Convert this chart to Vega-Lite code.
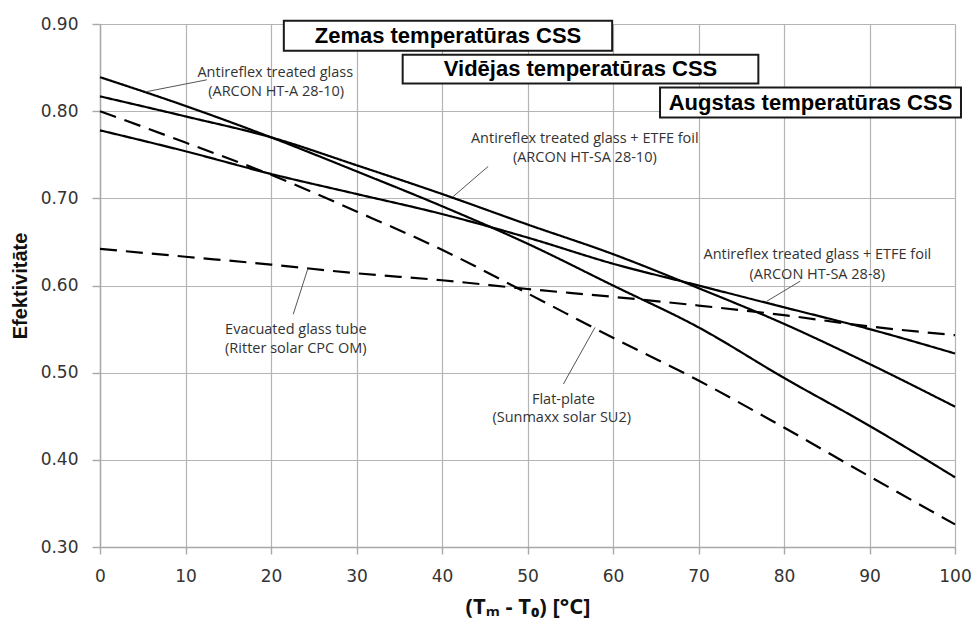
{
  "$schema": "https://vega.github.io/schema/vega-lite/v6.json",
  "width": 855,
  "height": 523,
  "autosize": "none",
  "padding": {"left": 100, "top": 24, "right": 18, "bottom": 74},
  "background": "white",
  "config": {
    "view": {"stroke": null},
    "axis": {
      "gridColor": "#b4b4b4",
      "gridWidth": 1.2,
      "domainColor": "#a8a8a8",
      "domainWidth": 1.4,
      "tickColor": "#a8a8a8",
      "tickWidth": 1.4,
      "labelFont": "DejaVu Sans",
      "labelFontSize": 17,
      "labelColor": "#333333",
      "labelFlush": false,
      "titleColor": "#111111"
    }
  },
  "datasets": {
    "curves": [
      {"T": 0, "eff": 0.839, "collector": "ARCON HT-A 28-10"},
      {"T": 10, "eff": 0.806, "collector": "ARCON HT-A 28-10"},
      {"T": 20, "eff": 0.770, "collector": "ARCON HT-A 28-10"},
      {"T": 30, "eff": 0.731, "collector": "ARCON HT-A 28-10"},
      {"T": 40, "eff": 0.691, "collector": "ARCON HT-A 28-10"},
      {"T": 50, "eff": 0.648, "collector": "ARCON HT-A 28-10"},
      {"T": 60, "eff": 0.600, "collector": "ARCON HT-A 28-10"},
      {"T": 70, "eff": 0.552, "collector": "ARCON HT-A 28-10"},
      {"T": 80, "eff": 0.494, "collector": "ARCON HT-A 28-10"},
      {"T": 90, "eff": 0.439, "collector": "ARCON HT-A 28-10"},
      {"T": 100, "eff": 0.380, "collector": "ARCON HT-A 28-10"},
      {"T": 0, "eff": 0.817, "collector": "ARCON HT-SA 28-10"},
      {"T": 10, "eff": 0.794, "collector": "ARCON HT-SA 28-10"},
      {"T": 20, "eff": 0.770, "collector": "ARCON HT-SA 28-10"},
      {"T": 30, "eff": 0.738, "collector": "ARCON HT-SA 28-10"},
      {"T": 40, "eff": 0.705, "collector": "ARCON HT-SA 28-10"},
      {"T": 50, "eff": 0.670, "collector": "ARCON HT-SA 28-10"},
      {"T": 60, "eff": 0.636, "collector": "ARCON HT-SA 28-10"},
      {"T": 70, "eff": 0.597, "collector": "ARCON HT-SA 28-10"},
      {"T": 80, "eff": 0.556, "collector": "ARCON HT-SA 28-10"},
      {"T": 90, "eff": 0.510, "collector": "ARCON HT-SA 28-10"},
      {"T": 100, "eff": 0.461, "collector": "ARCON HT-SA 28-10"},
      {"T": 0, "eff": 0.778, "collector": "ARCON HT-SA 28-8"},
      {"T": 10, "eff": 0.754, "collector": "ARCON HT-SA 28-8"},
      {"T": 20, "eff": 0.728, "collector": "ARCON HT-SA 28-8"},
      {"T": 30, "eff": 0.705, "collector": "ARCON HT-SA 28-8"},
      {"T": 40, "eff": 0.682, "collector": "ARCON HT-SA 28-8"},
      {"T": 50, "eff": 0.655, "collector": "ARCON HT-SA 28-8"},
      {"T": 60, "eff": 0.625, "collector": "ARCON HT-SA 28-8"},
      {"T": 70, "eff": 0.600, "collector": "ARCON HT-SA 28-8"},
      {"T": 80, "eff": 0.575, "collector": "ARCON HT-SA 28-8"},
      {"T": 90, "eff": 0.550, "collector": "ARCON HT-SA 28-8"},
      {"T": 100, "eff": 0.522, "collector": "ARCON HT-SA 28-8"},
      {"T": 0, "eff": 0.800, "collector": "Sunmaxx solar SU2"},
      {"T": 10, "eff": 0.764, "collector": "Sunmaxx solar SU2"},
      {"T": 20, "eff": 0.727, "collector": "Sunmaxx solar SU2"},
      {"T": 30, "eff": 0.685, "collector": "Sunmaxx solar SU2"},
      {"T": 40, "eff": 0.641, "collector": "Sunmaxx solar SU2"},
      {"T": 50, "eff": 0.591, "collector": "Sunmaxx solar SU2"},
      {"T": 60, "eff": 0.540, "collector": "Sunmaxx solar SU2"},
      {"T": 70, "eff": 0.491, "collector": "Sunmaxx solar SU2"},
      {"T": 80, "eff": 0.437, "collector": "Sunmaxx solar SU2"},
      {"T": 90, "eff": 0.381, "collector": "Sunmaxx solar SU2"},
      {"T": 100, "eff": 0.326, "collector": "Sunmaxx solar SU2"},
      {"T": 0, "eff": 0.642, "collector": "Ritter solar CPC OM"},
      {"T": 10, "eff": 0.633, "collector": "Ritter solar CPC OM"},
      {"T": 20, "eff": 0.624, "collector": "Ritter solar CPC OM"},
      {"T": 30, "eff": 0.614, "collector": "Ritter solar CPC OM"},
      {"T": 40, "eff": 0.606, "collector": "Ritter solar CPC OM"},
      {"T": 50, "eff": 0.596, "collector": "Ritter solar CPC OM"},
      {"T": 60, "eff": 0.587, "collector": "Ritter solar CPC OM"},
      {"T": 70, "eff": 0.577, "collector": "Ritter solar CPC OM"},
      {"T": 80, "eff": 0.566, "collector": "Ritter solar CPC OM"},
      {"T": 90, "eff": 0.553, "collector": "Ritter solar CPC OM"},
      {"T": 100, "eff": 0.543, "collector": "Ritter solar CPC OM"}
    ],
    "labels": [
      {"T": 20.5, "eff": 0.8441, "text": "Antireflex treated glass"},
      {"T": 20.6, "eff": 0.8223, "text": "(ARCON HT-A 28-10)"},
      {"T": 56.7, "eff": 0.7685, "text": "Antireflex treated glass + ETFE foil"},
      {"T": 56.7, "eff": 0.7467, "text": "(ARCON HT-SA 28-10)"},
      {"T": 83.9, "eff": 0.6355, "text": "Antireflex treated glass + ETFE foil"},
      {"T": 83.9, "eff": 0.6126, "text": "(ARCON HT-SA 28-8)"},
      {"T": 22.9, "eff": 0.5494, "text": "Evacuated glass tube"},
      {"T": 22.9, "eff": 0.5276, "text": "(Ritter solar CPC OM)"},
      {"T": 54.2, "eff": 0.4690, "text": "Flat-plate"},
      {"T": 54.0, "eff": 0.4483, "text": "(Sunmaxx solar SU2)"}
    ],
    "leaders": [
      {"T1": 12.5, "e1": 0.836, "T2": 5.5, "e2": 0.8225},
      {"T1": 45.4, "e1": 0.7366, "T2": 41.3, "e2": 0.7020},
      {"T1": 81.9, "e1": 0.605, "T2": 78.0, "e2": 0.582},
      {"T1": 22.6, "e1": 0.567, "T2": 24.3, "e2": 0.619},
      {"T1": 54.2, "e1": 0.487, "T2": 57.9, "e2": 0.552}
    ],
    "ranges": [
      {"x1": 21.5, "x2": 59.9, "top": 0.9038, "bottom": 0.8694, "cx": 40.7, "cy": 0.8866, "name": "Zemas temperatūras CSS"},
      {"x1": 35.4, "x2": 77.0, "top": 0.8648, "bottom": 0.8316, "cx": 56.2, "cy": 0.8482, "name": "Vidējas temperatūras CSS"},
      {"x1": 65.5, "x2": 100.7, "top": 0.8271, "bottom": 0.7927, "cx": 83.1, "cy": 0.8099, "name": "Augstas temperatūras CSS"}
    ]
  },
  "layer": [
    {
      "data": {"name": "curves"},
      "mark": {"type": "line", "interpolate": "monotone", "color": "black", "strokeWidth": 2.2},
      "encoding": {
        "x": {
          "field": "T", "type": "quantitative",
          "scale": {"domain": [0, 100], "nice": false, "zero": false},
          "axis": {
            "values": [0, 10, 20, 30, 40, 50, 60, 70, 80, 90, 100],
            "grid": true, "tickSize": 7, "labelPadding": 14,
            "title": "(Tₘ - T₀) [°C]",
            "titleFont": "Open Sans", "titleFontSize": 22, "titleFontWeight": "bold",
            "titlePadding": 12
          }
        },
        "y": {
          "field": "eff", "type": "quantitative",
          "scale": {"domain": [0.3, 0.9], "nice": false, "zero": false},
          "axis": {
            "values": [0.3, 0.4, 0.5, 0.6, 0.7, 0.8, 0.9],
            "format": ".2f", "grid": true, "tickSize": 8, "labelPadding": 14,
            "title": "Efektivitāte",
            "titleFont": "Liberation Sans", "titleFontSize": 20, "titleFontWeight": "bold",
            "titlePadding": 10
          }
        },
        "detail": {"field": "collector"},
        "strokeDash": {
          "field": "collector", "type": "nominal", "legend": null,
          "scale": {
            "domain": ["ARCON HT-A 28-10", "ARCON HT-SA 28-10", "ARCON HT-SA 28-8", "Sunmaxx solar SU2", "Ritter solar CPC OM"],
            "range": [[1, 0], [1, 0], [1, 0], [17, 9], [17, 9]]
          }
        }
      }
    },
    {
      "data": {"name": "leaders"},
      "mark": {"type": "rule", "color": "#555555", "strokeWidth": 1},
      "encoding": {
        "x": {"field": "T1", "type": "quantitative"},
        "y": {"field": "e1", "type": "quantitative"},
        "x2": {"field": "T2"},
        "y2": {"field": "e2"}
      }
    },
    {
      "data": {"name": "labels"},
      "mark": {"type": "text", "font": "Open Sans", "fontSize": 14.5, "color": "#333333", "align": "center", "baseline": "middle"},
      "encoding": {
        "x": {"field": "T", "type": "quantitative"},
        "y": {"field": "eff", "type": "quantitative"},
        "text": {"field": "text"}
      }
    },
    {
      "data": {"name": "ranges"},
      "mark": {"type": "rect", "fill": "white", "stroke": "#1a1a1a", "strokeWidth": 2},
      "encoding": {
        "x": {"field": "x1", "type": "quantitative"},
        "x2": {"field": "x2"},
        "y": {"field": "top", "type": "quantitative"},
        "y2": {"field": "bottom"}
      }
    },
    {
      "data": {"name": "ranges"},
      "mark": {"type": "text", "font": "Liberation Sans", "fontSize": 22, "fontWeight": "bold", "color": "black", "align": "center", "baseline": "middle"},
      "encoding": {
        "x": {"field": "cx", "type": "quantitative"},
        "y": {"field": "cy", "type": "quantitative"},
        "text": {"field": "name"}
      }
    }
  ]
}
